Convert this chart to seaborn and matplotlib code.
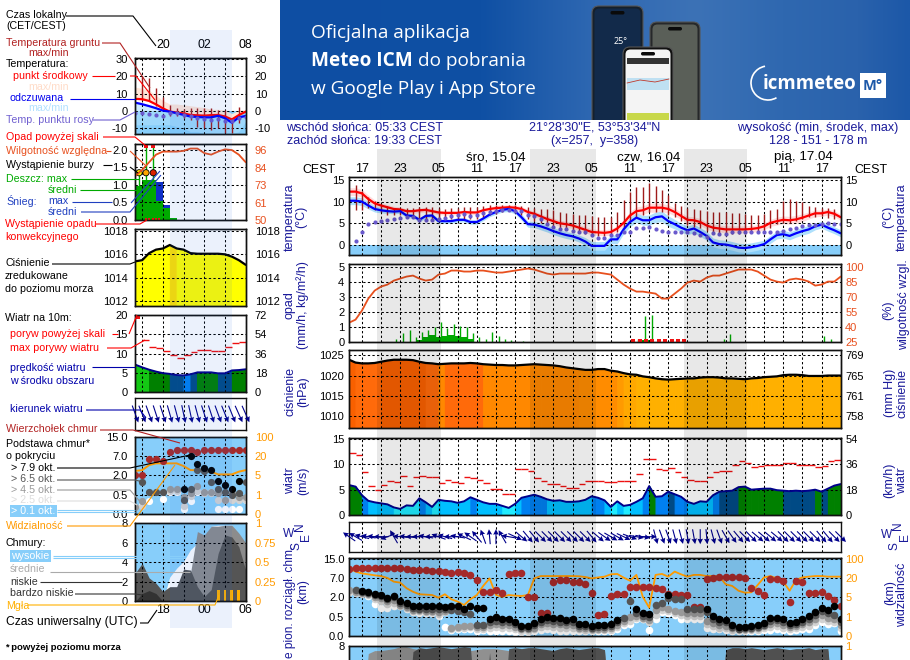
import numpy as np
import seaborn as sns
import matplotlib
matplotlib.use("Agg")
import matplotlib.pyplot as plt
from matplotlib.patches import FancyBboxPatch, Rectangle, Arc
from matplotlib.colors import LinearSegmentedColormap

sns.set_theme(style="white")
plt.rcParams["font.family"] = ["Liberation Sans", "DejaVu Sans"]
n = np.nan

# ---------------------------------------------------------------- main meteogram data (hourly, 15..92)
temp_mid = [12.3,12.3,11.9,10.6,9.6,9.1,8.7,8.3,8.2,7.8,7.8,8.0,8.1,7.8,7.5,7.4,7.4,7.4,7.6,7.5,7.5,8.0,8.3,8.5,8.6,8.7,8.6,8.3,7.6,7.2,6.6,6.0,5.5,5.0,4.8,4.5,4.0,3.5,3.0,
            2.9,2.8,3.0,3.8,5.1,6.8,7.8,8.0,8.6,8.6,8.6,8.3,7.6,6.7,5.8,5.7,5.3,4.5,4.0,3.8,3.6,3.6,3.6,3.6,3.7,3.9,4.3,5.1,5.5,5.8,5.7,5.9,6.3,6.8,7.3,7.3,7.6,7.2,6.4]
temp_feel = [10.2,10.2,10,9.1,8.3,8,7.8,7.7,7.8,6.8,6.7,5.8,6.7,6.8,5.5,5.5,5.5,5.8,5.8,5.3,5.3,6.1,7,7.6,8.1,8.3,7.8,6.4,4.8,4.7,4.3,3.8,3.2,2.7,2.3,2,1.5,.8,-.2,
             -.2,-.2,1.3,1.3,3.6,5.3,6.3,5.7,5.7,6.4,6.6,5.5,4.8,4,3.4,3.8,3,2.1,.6,.2,.1,-.2,-.6,-.7,-.5,-.2,.2,1.3,2.3,2.5,2.1,2.7,3.2,3.6,4.3,4.7,4,3.4,2.7]
temp_spread = [.9,.9,.9,.9,.8,.7,.6,.6,.6,.5,.5,.5,.5,.5,.5,.5,.5,.5,.5,.5,.5,.5,.5,.6,.6,.6,.6,.6,.6,.6,.6,.7,.7,.7,.7,.7,.7,.7,.7,
               .7,.7,.7,.7,.8,.9,1,1,1,1.1,1,.9,.9,.8,.8,.8,.8,.8,.8,.8,.8,.8,.8,.8,.8,.8,.8,.8,.9,.9,.9,.9,.9,.8,.8,.7,.7,.7,.7]
feel_spread = [.9,.9,.9,.8,.7,.6,.5,.5,.5,.5,.5,.5,.5,.5,.5,.5,.5,.5,.5,.5,.5,.5,.5,.5,.5,.6,.6,.7,.7,.7,.8,.8,.8,.8,.8,.8,.8,.9,1,
               1,1,1,1,1,1.1,1.1,1.1,1.2,1.2,1.2,1.2,1.1,1,1,1,1,1,1,1,1,1,1,1,1,1,.9,.9,.9,.9,.9,.9,.9,.9,.8,.8,.8,.8,.8]
dew_hours = list(range(16, 93))
dew_point = [1,3,4.8,5.4,5.6,5.8,6,6.2,6.4,6.4,5.7,5.7,5.7,6,6.3,6.6,6.8,7.2,6.7,7,7.4,7.6,7.8,8,8,7.8,7.8,7,6.7,5.9,4.9,4.2,3.8,3.8,3.3,3,2.9,2.3,
             1.7,1.7,2.3,2.3,3,3,3.9,3.9,4.2,3.6,3.3,2.9,3,3,3,2.8,2.3,1.9,2.7,2.5,2.5,2.9,3,3.1,3,2.9,2.9,3,3,3.3,3.8,4,4.3,4.5,4.7,4.8,5.1,4.8,4.8]
ground_hours = list(range(16, 92))
ground_max = [13.9,12.5,11,10.2,9.5,8.9,8.6,8.3,8.5,8.6,8.7,8.8,8.8,8.5,8.4,8.5,8.5,8.7,8.8,8.8,9.1,9.2,9.3,9.3,9.3,9.2,9.1,8.8,8.6,8.4,8.2,8,7.7,7.4,7.2,7,6.8,6.6,
              6.4,6.4,6.4,7.6,10.4,12.1,13.3,13.4,14.4,13.6,12.7,11.6,9.7,8.9,8.6,8.3,8.1,7.8,7.7,7.6,7.6,7.4,7.3,7.2,7,7,7.2,8.1,8.3,10.2,10.6,10.2,9.8,8.9,8.7,8.6,8.6,8.3]
ground_min = [8,8,8.5,8,7.5,7,6.8,6.8,6.5,6.5,6,6,6,6,6,6,6,6,6,6,6.5,6.8,7.2,7.6,8,7.5,7,6,5.5,5,4.5,4,3.5,3.5,3,3,2.5,2.2,
              2,2,2.2,3,4,5.5,6.5,7,7.5,7.5,7.5,7,6.5,5.5,4.5,4.2,4,3.2,2.8,2.5,2.5,2.5,2.5,2.5,2.7,3,3.5,4,4.8,5,5,5.5,6,6.5,6.5,6.6,6.2,6]
humidity = [44,47,56,68,76,80,82,86,88,90,91,88,86,87,92,93,96,96,95,95,96,96,95,94,94,95,96,97,98,97,95,93,92,93,93,93,93,93,94,
            94,93,92,87,82,78,75,75,74,73,68,68,73,78,84,86,85,89,91,91,93,95,97,97,97,95,91,87,85,84,87,88,87,85,81,82,85,85,90]
rain_max_hours = [22.4,23.4,24.5,25.4,26.4,27.4,28.4,29.4,30.3,31.4,32.4,33.4,34.4,35.4,36.4,37.4,38.4,39.4,40.4,42.2,60.3,61.4,62.5,73.7,74.6,89.4,90.5]
rain_max = [.15,.55,.8,.3,.65,.75,1.0,1.3,.9,1.15,1.05,1,.55,.3,.15,.65,.35,.15,.1,.05,.2,1.73,1.78,.2,.5,.38,.15]
rain_mean_hours = [25.9,26.9,27.9,28.9,29.9,30.9,31.9,32.9,33.9,60.9,61.9]
rain_mean = [.1,.3,.45,.33,.38,.42,.38,.3,.15,.12,.12]
convective_hours = [59.5,60.5,61.5,62.5,63.5,64.5,65.5,66.5,67.5]
pressure = [1023.9,1023.2,1023,1023,1023.1,1023.4,1023.7,1023.9,1023.9,1023.9,1023.8,1023.4,1023.1,1023,1022.8,1022.9,1023,1023,1023,1023.1,1023,1022.8,1022.7,1022.6,1022.6,1022.5,1022.5,1022.6,1022.7,1022.8,1022.7,1022.6,1022.5,1022.3,1022,1021.8,1021.6,1021.4,1021.4,
            1021.6,1021.6,1021.2,1021,1020.6,1020.3,1020.2,1019.8,1019.6,1019.3,1019.1,1019,1019.1,1019.2,1019.3,1019.3,1019.5,1019.6,1019.6,1019.5,1019.3,1019.3,1019.2,1019.1,1019.3,1019.4,1019.6,1019.7,1019.8,1020.1,1020.2,1020.2,1020.1,1019.9,1019.9,1019.9,1020,1020,1020]
wind = [5.9,5.6,3.9,2.8,2.5,2.3,2.1,1.5,1.2,1.9,1.8,3.3,2.5,1.6,3,2.8,2.7,2.4,2.7,3.5,3,2.5,2.2,2.2,1.8,1.4,2.2,3.4,3.7,4,3.6,3.1,2.8,2.9,2.6,2.6,2.7,3,3.7,
        3.4,2.9,1.6,2.7,1.8,2,2.6,3.3,5.7,3.6,3.7,4.6,4.1,3.6,2.6,2.2,2.7,2.6,3.9,4.6,4.7,4.8,5.5,5.6,5,5.1,5.2,5.2,4.9,4.8,4.7,4.8,4.7,4.8,5,4.6,5.2,5.8,6.1]
gust_hours = list(range(15, 92))
gust = [12.2,11.8,8.4,5.7,5,6,6.8,6.6,7.6,5.7,7.5,7.6,7.5,7.5,6.4,7,6.5,6.3,7.5,7.3,7,6.4,5.2,5.2,4.2,4.2,9,9,8.6,7.3,6.7,6.2,6.2,5.8,5.4,5.4,6.2,6.8,6.8,
        6.8,6.6,6.6,6.8,6.8,6.8,8,11,11,9.1,8.9,9.2,8.4,7.4,7,6.8,6.8,7.4,8.4,8.7,8.6,9.9,10.7,10.3,9.5,9.7,9.9,9.8,9.9,10.3,10.3,9.9,9.9,9.9,9.5,9.7,10.7,10.9]
wind_dir = [145,150,165,170,175,180,200,120,175,175,180,180,170,180,160,165,180,170,155,145,130,110,95,90,120,170,-25,-40,-50,-50,-45,-45,-45,-45,-45,-45,-45,-45,-50,
            -40,-35,-30,-30,-25,-20,-10,-10,0,-75,-70,-70,-75,-75,-80,-80,-90,-85,-75,-70,-60,-55,-50,-45,-45,-40,-40,-40,-40,-45,-45,-45,-45,-45,-45,-50,-50,-45,-45]
cloud_top = [3.45,3.5,3.5,3.5,3.5,3.5,3.5,3.5,3.5,3.48,3.43,3.43,3.43,3.36,3.36,3.31,3.24,3.33,3.26,3.16,2.9,2.29,2.29,2.38,2.24,3.21,3.28,3.28,2.03,2.03,1.17,1.17,2.81,2.9,2.9,2.81,2.78,2.67,2.21,
             1.09,1.12,2.07,2.17,2.19,2.52,2.55,2.55,2.52,2.5,2.41,2.17,2.17,2.14,2.1,1.52,1.52,2.93,2.98,3.05,3.05,3.05,3.05,3,2.48,2.33,2.1,2.93,2.93,2.86,1.76,2.86,2.81,2.21,2.24,2.29,2.09,1.86,1.57]
base_79 = [n,n,2.33,2.29,2.17,2.12,1.98,2.07,1.79,1.69,1.53,1.53,1.53,1.53,1.53,1.52,1.53,1.53,1.38,1.55,1.47,1.47,.9,1,.86,.88,.74,.52,.52,.66,.9,1,.91,.91,.83,.86,.64,.6,.5,
           .57,.57,.62,.83,n,n,1.38,1.17,1.12,n,n,2.12,n,n,n,n,n,1.4,1.05,.88,.83,.57,.45,.48,.52,.57,.69,.95,.95,.86,.66,.74,.88,1.03,1.22,1.47,1.34,1.55,.86]
base_65 = [n,2.38,2.3,2.25,2.1,2.05,1.9,2,1.7,1.6,1.45,1.4,1.4,1.4,1.4,1.4,1.35,1.3,1.22,1.12,.55,.55,.7,.8,.7,.7,.6,.42,.42,.55,.75,.85,.78,.75,.7,.72,.52,.5,.42,
           .48,.48,.5,.7,.95,1.8,1.2,1.05,1,1.6,1.7,1.95,1.9,1.9,1.4,1.4,1.4,1.25,.9,.75,.7,.48,.38,.4,.43,.48,.58,.8,.82,.72,.55,.62,.75,.88,1.08,1.3,1.2,1.09,.7]
base_45 = [2.38,2.3,2.2,2.15,2,1.95,1.8,1.85,1.6,1.5,1.35,1.35,1.3,1.3,1.25,1.3,.42,.45,.5,.5,.45,.45,.55,.6,.55,.55,.45,.35,.35,.42,.6,.65,.6,.6,.55,.55,.42,.42,.36,
           .38,.38,.4,.55,.8,1,1.05,.95,.85,1.35,1.5,1.4,1.3,1.25,1.2,1.2,1.2,.8,.65,.55,.5,.4,.34,.35,.37,.4,.5,.62,.65,.58,.45,.5,.6,.7,.9,1.1,.95,.9,.55]
base_25 = [2.3,2.25,2.15,2.1,1.9,1.8,1.65,1.7,1.55,1.45,1.3,1.28,1.24,1.22,1.15,1.25,.36,.4,.42,.44,.36,.38,.42,.45,.42,.42,.35,.28,.28,.34,.45,.5,.45,.42,.42,.42,.34,.33,.3,
           .3,.3,.32,.45,.68,.8,.95,.9,.7,1.1,1.35,1.3,1.2,1.1,1.05,1.05,1.05,.6,.5,.42,.4,.33,.31,.31,.32,.33,.4,.48,.5,.42,.36,.4,.45,.52,.72,.9,.78,.75,.42]
base_01 = [2.26,2.26,2.21,2.09,1.64,1.47,1.47,1.53,1.53,1.38,1.24,1.21,1.17,1.17,1.05,.48,.31,.34,.36,.38,.28,.31,.28,.26,.28,.28,.22,.22,.22,.26,.31,.34,.31,.28,.28,.28,.26,.26,.26,
           .24,.24,.24,.36,.57,.6,.86,.86,.31,.86,1.26,1.17,1.09,.86,.86,.86,.86,.4,.34,.34,.31,.28,.28,.28,.28,.26,.31,.31,.34,.31,.28,.31,.34,.38,.57,.74,.62,.65,.28]
visibility = [3.5,3.33,3.24,3.19,3.14,3.1,3,2.81,2.76,2.47,2.29,2.16,2.14,2.12,1.98,2.16,1.9,1.78,1.6,1.9,2.12,2.59,2.98,2.12,2.03,2.12,2.09,2.07,2.12,2.98,3.1,3.1,3.1,3.1,3.1,3.1,3.09,3.05,2.98,
              3.03,3.07,3.19,3.21,3.02,2.86,3.16,2.03,1.47,3.16,3.21,3.07,3.33,3.19,3.07,3.16,3.16,3.1,3.1,3.07,2.67,2.59,2.34,2.24,2.26,2.64,3.03,3.1,2.98,2.81,2.34,2.9,3.03,3.07,3.1,3.1,3.07,3.07,3.07]
cover_mid = [0,0,0,7.2,7.5,7.5,7.6,7.7,7.9,7.9,7.7,7.6,7.5,7.5,7.5,7.5,7.5,7.5,7.5,7.5,7.6,7.7,7.7,7.7,7.6,7.5,7.5,7.5,7.5,7.5,7.5,7.5,7.5,7.5,7.5,7.5,7.5,7.5,7.5,
             7.5,7.5,0,0,0,0,0,0,0,0,0,0,0,0,0,0,0,0,0,0,7.5,7.5,7.5,7.5,7.5,7.5,7.5,7.5,7.5,7.5,7.5,7.5,7.5,7.5,7.5,7.5,7.5,0,0]
cover_low = [0,0,0,0,0,0,0,0,0,0,7.4,7.8,7.7,7.8,7.9,7.8,7.7,7.8,7.9,7.8,0,0,7.3,0,0,7.7,7.8,7.7,7.8,7.8,7.7,7.6,7.5,7.7,7.8,7.7,7.6,7.7,7.8,
             7.8,7.6,0,0,0,0,0,0,0,0,0,0,0,0,0,0,0,0,0,0,7.6,7.8,7.8,7.7,7.8,7.7,7.6,7.7,7.8,7.7,7.6,7.7,7.7,7.8,7.6,7.7,7.7,0,0]

main_ticks = [17,20,23,26,29,32,35,38,41,44,47,50,53,56,59,62,65,68,71,74,77,80,83,86,89,92]
main_labels = ["17","","23","","05","","11","","17","","23","","05","","11","","17","","23","","05","","11","","17",""]
night_starts = [19.3,43.4,67.4]
night_ends = [29.4,53.6,77.4]

# ---------------------------------------------------------------- left key panel data (hourly, 16..32)
key_temp = [7.0,6.8,5.8,3.8,1.5,-0.4,-0.9,-1.4,-2.3,-2.5,-2.7,-2.4,-2.3,-3.2,-4.9,-2.4,-0.4]
key_temp_hi = [13.8,13,12,9,6,4,4,3.5,3,2.5,2,1,1,.5,-1.5,.5,.5]
key_feel = [4.8,3.9,2.8,1.6,0.2,-0.4,-1.3,-2.3,-3.2,-3.5,-3.7,-3.7,-2.8,-4.2,-6.8,-3.7,-2.9]
key_feel_lo = [-8,-8,-8,-8,-8,-8,-9,-10,-12,-12,-13,-13,-13,-13,-13,-12,-6]
key_dew = [-1.2,-1.4,-1.7,-2.3,-2.7,-1.4,-1.4,-2.3,-3,-3.9,-4.5,-5,-4.9,-5.6,-5.6,-4,-3.5]
key_ground_hours = [17,18,19,20,21,22,23,24,25,26,27,28,29,30,31]
key_ground_max = [20.4,19,13,8,3.5,1.5,1,1.5,1.5,1.5,1.5,.5,.5,-4,2.5]
key_ground_min = [6.5,5.5,3,.8,-3,-3,-4,-5.5,-9,-10,-11,-10,-13,-13,-7]
key_humidity = [79,83,88,93,95,95,95,95.5,97,97,94,93,95,96.5,96,93,88]
key_rain = [.96,1.15,1.15,.53,.34,.07]
key_snow = [0,0,0,.55,.09,0]
key_rain_hours = [16,17,18,19,20,21]
key_storm_hours = [16.55,17.55,18.6]
key_storm_colors = ["#ffee00","#ffa500","#dd2200"]
key_spike_low = [.96,1.15,1.15]
key_spike_high = [1.35,2.1,2.1]
key_pressure = [1015.4,1015.5,1016.1,1016.4,1016.5,1016.8,1016.5,1016.4,1016.1,1016.05,1016.05,1016.05,1016.05,1016,1015.8,1015.5,1015.1]
key_wind = [7.1,6.4,5.8,5.3,4.9,4.7,4.4,4.3,4.6,5.1,5.1,5.1,4.85,4.85,5.6,5.7,5.9]
key_gust_hours = [17,18,19,20,21,22,23,24,25,26,27,28,29,30,31]
key_gust = [13.5,11.8,11.5,10.6,9.7,8.9,9.7,10.4,10.9,10.9,10.6,10.6,11.6,12.8,13]
key_dir = [-70,-68,-70,-72,-72,-74,-75,-78,-78,-75,-72,-72,-70,-68,-68,-66,-66]
key_top = [2,2,2.85,2.85,2.75,3.2,3.3,3.3,3.3,3.2,3.3,3.3,3.3,3.3,3.3,3.3,3.3]
key_b79 = [n,n,n,n,n,n,n,1.28,3,2.57,2.4,2.28,1.7,1.5,1.28,1.7,n]
key_b65 = [n,1.67,1.12,1.12,1.12,n,n,.72,1.28,2.3,2.2,1.67,1.28,1.12,1,1.07,1.67]
key_b45 = [.38,.69,n,n,n,1.28,1.28,.9,1.1,1.45,1.15,1.12,1.07,.72,1.07,.9,.9]
key_b25 = [.35,.4,n,n,n,1.2,1.2,.4,.95,1.2,1.1,1.1,.72,.72,.72,.72,.72]
key_b01 = [n,.46,.69,n,.76,1.12,1.12,.24,.69,1.15,1.12,1.15,.24,.24,.24,.24,.72]
key_vis = [2.23,2.27,2.53,2.62,2.62,2.62,2.62,2.48,2.27,2.27,2.23,2.19,2.05,2.05,2.05,2.19,2.27]
key_high = [0,0,0,0,0,2.5,3.4,4.1,5.3,5.95,6.5,7.7,7.8,7.8,7.8,6.6,5.8]
key_mid = [0,0,0,0,0,0,0,3.2,2.9,7.15,6.8,7.7,7.7,7.8,7.8,7,6]
key_low = [2.9,3.9,2.4,1.85,1,1.5,1.5,3.3,3.2,1.5,.5,1.2,4.9,6.8,6.6,5.6,3.2]
key_vlow = [0,.8,1.1,.8,0,0,0,0,0,0,0,0,0,0,0,0,0]
key_fog_hours = [28,29,30,31]
key_fog = [1.15,1.15,1.15,1.15]
key_ticks = [17,20,23,26,29,32]
key_top_labels = ["","20","","02","","08"]
key_bottom_labels = ["","18","","00","","06"]

# ---------------------------------------------------------------- colour classes
wind_bounds = [2,3.2,4.4,4.9,6.2]
wind_cols = ["#20ecff","#00bfff","#0080f0","#004a85","#008000","#14c814"]
press_bounds = [1016.7,1018,1020.25,1020.7,1021.1,1021.7,1022.85,1023.35]
press_cols = ["#ffff00","#ffe000","#ffb000","#ffa800","#ff9a00","#ff8c00","#ff8800","#ff6a0a","#f96000"]

W, H = 910, 660
fig = plt.figure(figsize=(W/100, H/100), dpi=100, facecolor="white")
FS = 8.0       # axis numbers
NOTE = 7.7     # key notes
HEAD = 9.0     # page headers
TIME = 8.9     # time-of-day labels
NAVY = "#1a1a9a"
BLUEBG = "#87cefa"
RHC = "#e8501e"
VISC = "#ff9a00"
plt.rcParams["font.size"] = FS


def axpx(x0, y0, x1, y1):
    ax = fig.add_axes([x0/W, 1-y1/H, (x1-x0)/W, (y1-y0)/H])
    ax.patch.set_alpha(0)
    return ax


def panel(box, xlim, ylim, xt, yt, ylab=None, pad=3, ygrid=True):
    ax = axpx(*box)
    ax.set_xlim(*xlim)
    ax.set_ylim(*ylim)
    ax.set_xticks(xt)
    ax.set_xticklabels([""]*len(xt))
    ax.set_yticks(yt)
    ax.set_yticklabels(ylab if ylab else [str(v) for v in yt], fontsize=FS)
    ax.tick_params(length=0, pad=pad, colors="black")
    ax.set_axisbelow("line")
    ax.grid(True, axis="x", color="black", ls=(0, (2.2, 2.2)), lw=.75)
    if ygrid:
        ax.grid(True, axis="y", color="black", ls=(0, (2.2, 2.2)), lw=.75)
    for s in ax.spines.values():
        s.set_color("#111111")
        s.set_linewidth(1.0)
    return ax


def right(ax, ticks, labels, color="black", lim=None, pad=3):
    tw = ax.twinx()
    tw.patch.set_alpha(0)
    tw.set_ylim(*(lim if lim else ax.get_ylim()))
    tw.set_yticks(ticks)
    tw.set_yticklabels(labels, fontsize=FS, color=color)
    tw.tick_params(length=0, pad=pad)
    tw.grid(False)
    for s in tw.spines.values():
        s.set_color("#111111")
        s.set_linewidth(1.0)
    return tw


def line(ax, x, y, color, lw):
    sns.lineplot(x=list(x), y=list(y), ax=ax, color=color, linewidth=lw, errorbar=None, legend=False)
    ax.set_xlabel("")
    ax.set_ylabel("")


def dots(ax, x, y, color, s):
    sns.scatterplot(x=list(x), y=list(y), ax=ax, color=color, s=s, linewidth=0, legend=False, zorder=3)
    ax.set_xlabel("")
    ax.set_ylabel("")


def columns(ax, x, y, base, bounds, cols):
    for i in range(len(x)-1):
        c = cols[int(np.digitize(y[i], bounds))]
        ax.fill_between([x[i], x[i+1]], [y[i], y[i+1]], base, facecolor=c, edgecolor=c, lw=.8, zorder=1)


def quiver(ax, x, d, length):
    r = np.radians(d)
    ax.quiver(x, np.zeros(len(x)), np.cos(r), np.sin(r), color="#00008b",
              angles="uv", scale_units="dots", scale=1/length, units="dots", width=1.1, headwidth=5,
              headlength=5, headaxislength=4.5, pivot="mid", clip_on=False, zorder=3)


def base_dots(ax, x, lv, s):
    for vals, c in zip(lv, ["white", "#d2d2d2", "#999999", "#555555", "black"]):
        dots(ax, x, vals, c, s)


# ================================================================= banner
banner = axpx(280, 0, 910, 120)
banner_cmap = LinearSegmentedColormap.from_list("banner", [(0, "#0e4ea3"), (.32, "#0f50a4"), (.5, "#2f68b2"),
                                                          (.66, "#3c72b6"), (.8, "#2f68b0"), (.92, "#2a62ac"), (1, "#1c58a8")])
banner.imshow(np.linspace(0, 1, 256)[None, :], cmap=banner_cmap, aspect="auto", extent=(280, 910, 120, 0))
banner.set_xlim(280, 910)
banner.set_ylim(120, 0)
banner.axis("off")
BF = ["Open Sans", "DejaVu Sans"]
banner.text(311, 33, "Oficjalna aplikacja", color="white", fontsize=13.7, va="center", family=BF)
banner.text(311, 61, "Meteo ICM", color="white", fontsize=13.7, va="center", weight="bold", family=BF)
banner.text(418, 61, "do pobrania", color="white", fontsize=13.7, va="center", family=BF)
banner.text(311, 89, "w Google Play i App Store", color="white", fontsize=13.7, va="center", family=BF)
for (x0, y0, x1, col, scr) in [(592, 6, 643, "#15202c", "#122a4a"), (650, 22, 700, "#26282a", "#5a5f58"), (623, 47, 673, "#111111", "#f4f4f4")]:
    banner.add_patch(FancyBboxPatch((x0, y0), x1-x0, 140-y0, boxstyle="round,pad=0,rounding_size=7", fc=col, ec="#555555", lw=.8, clip_on=True))
    banner.add_patch(FancyBboxPatch((x0+2.5, y0+2.5), x1-x0-5, 140-y0, boxstyle="round,pad=0,rounding_size=5", fc=scr, ec="none", clip_on=True))
    banner.add_patch(FancyBboxPatch(((x0+x1)/2-7, y0+5), 14, 3.5, boxstyle="round,pad=0,rounding_size=1.7", fc="#0a0a0a", ec="none"))
banner.add_patch(Rectangle((627, 58), 42, 6, fc="#333333", ec="none"))
banner.text(621, 41, "25°", color="white", fontsize=6.5, ha="center", va="center", family=BF)
banner.add_patch(Rectangle((627, 78), 42, 12, fc="#bfe0f2", ec="none"))
banner.plot([627, 640, 655, 669], [83, 80, 82, 79], color="#c0392b", lw=.6)
banner.add_patch(Rectangle((627, 113), 42, 7, fc="#c8d84a", ec="none"))
banner.text(763, 84, "icmmeteo", color="white", fontsize=13.4, weight="bold", va="center", family=BF)
banner.add_patch(Arc((768, 83), 34, 34, theta1=60, theta2=260, color="white", lw=1.2))
banner.add_patch(Rectangle((860, 73), 26, 25, fc="white", ec="none"))
banner.text(873, 85.5, "M°", color="#1c58a8", fontsize=10.5, weight="bold", ha="center", va="center", family=BF)

# ================================================================= main panels
hours = np.arange(15, 93)
XL = (14.9, 92.05)
X0, X1 = 348.5, 841

# temperature
ax = panel((X0, 177.3, X1, 255), XL, (-2.3, 15.6), main_ticks, [15, 10, 5, 0])
ax.axhspan(-2.3, 0, color=BLUEBG, lw=0, zorder=.8)
tm, fl = np.array(temp_mid), np.array(temp_feel)
ax.fill_between(hours, tm-temp_spread, tm+np.array(temp_spread), color="#ffdcdc", lw=0, zorder=.9)
ax.fill_between(hours, fl-feel_spread, fl+np.array(feel_spread), color="#aee0fc", lw=0, zorder=.9)
ax.vlines(ground_hours, ground_min, ground_max, color="#a01c1c", lw=1, zorder=2)
dots(ax, dew_hours, dew_point, "#6a5acd", 9)
line(ax, hours, temp_mid, "#ff0000", 1.6)
line(ax, hours, temp_feel, "#0000ff", 1.6)
ax.set_xticklabels(main_labels, fontsize=TIME)
ax.tick_params(axis="x", top=False, labeltop=True, labelbottom=False, pad=1.5)
right(ax, [15, 10, 5, 0], ["15", "10", "5", "0"])

# precipitation / humidity
ax = panel((X0, 264, X1, 341.7), XL, (0, 5.17), main_ticks, [5, 4, 3, 2, 1, 0])
ax.vlines(rain_max_hours, 0, rain_max, color="#00aa00", lw=1, zorder=2)
ax.bar(rain_mean_hours, rain_mean, width=1, color="#00aa00", lw=0, zorder=1)
ax.scatter(convective_hours, [.03]*len(convective_hours), marker="s", s=5, color="#ee1111", lw=0, zorder=3, clip_on=False)
tw = right(ax, [100, 85, 70, 55, 40, 25], ["100", "85", "70", "55", "40", "25"], RHC, lim=(25, 102.55))
line(tw, hours, humidity, RHC, 1.3)

# pressure
ax = panel((X0, 350, X1, 428.3), XL, (1007, 1026.3), main_ticks, [1025, 1020, 1015, 1010])
columns(ax, hours, pressure, 1007, press_bounds, press_cols)
line(ax, hours, pressure, "black", 1.6)
right(ax, [1025, 1020, 1015, 1010], ["769", "765", "761", "758"])

# wind
ax = panel((X0, 437.7, X1, 515), XL, (0, 15.25), main_ticks, [15, 10, 5, 0])
columns(ax, hours, wind, 0, wind_bounds, wind_cols)
line(ax, hours, wind, "#00008b", 1.4)
ax.hlines(gust, gust_hours, np.array(gust_hours)+1, color="#ee1111", lw=1, zorder=2)
right(ax, [15, 10, 5, 0], ["54", "36", "18", "0"])

# wind direction
ax = panel((X0, 521.7, X1, 551.7), XL, (-1, 1), main_ticks, [], ygrid=False)
quiver(ax, hours, wind_dir, 15)

# cloud base / visibility
LV = [0, 1, 2, 3, 4]
ax = panel((X0, 557.7, X1, 636), XL, (0, 4.05), main_ticks, LV, ["0.0", "0.5", "2.0", "7.0", "15.0"])
ax.set_facecolor(BLUEBG); ax.patch.set_alpha(1)
dots(ax, hours, cloud_top, "#a52a2a", 30)
base_dots(ax, hours, [base_01, base_25, base_45, base_65, base_79], 30)
line(ax, hours, visibility, VISC, 1.3)
right(ax, LV, ["0", "1", "5", "20", "100"], VISC)

# cloud cover (runs past the lower edge of the page, only its top tick is on it)
ax = panel((X0, 645.7, X1, 724), XL, (0, 8), main_ticks, [8])
ax.set_facecolor(BLUEBG); ax.patch.set_alpha(1)
ax.fill_between(hours, cover_mid, color="#909090", lw=0, zorder=1)
ax.fill_between(hours, cover_low, color="#505050", lw=0, zorder=1)
right(ax, [8], ["1"], VISC)

# ================================================================= key panels
kh = np.arange(16, 33)
KL = (16, 32)
KX0, KX1 = 135.3, 245.7
KP = 5.5

ax = panel((KX0, 57.7, KX1, 134.3), KL, (-13.5, 30.8), key_ticks, [30, 20, 10, 0, -10], pad=KP)
ax.axhspan(-13.5, 0, color=BLUEBG, lw=0, zorder=.8)
ax.fill_between(kh, key_feel_lo, key_feel, color="#aee0fc", lw=0, zorder=.85, alpha=.6)
ax.fill_between(kh, key_temp, key_temp_hi, color="#ffe6d8", lw=0, zorder=.9)
ax.vlines(key_ground_hours, key_ground_min, key_ground_max, color="#a01c1c", lw=1, zorder=2)
dots(ax, kh, key_dew, "#6a5acd", 9)
line(ax, kh, key_temp, "#ff0000", 1.6)
line(ax, kh, key_feel, "#0000ff", 1.6)
ax.set_xticklabels(key_top_labels, fontsize=TIME)
ax.tick_params(axis="x", labeltop=True, labelbottom=False, pad=5)
right(ax, [30, 20, 10, 0, -10], ["30", "20", "10", "0", "-10"], pad=KP+1)

ax = panel((KX0, 143.7, KX1, 220), KL, (0, 2.18), key_ticks, [2, 1.5, 1, .5, 0], ["2.0", "1.5", "1.0", "0.5", "0.0"], pad=KP)
ax.bar(key_rain_hours, key_rain, width=1, align="edge", color="#00aa00", lw=0, zorder=1)
ax.bar(key_rain_hours, key_snow, bottom=key_rain, width=1, align="edge", color="#1030c8", lw=0, zorder=1)
ax.vlines(key_storm_hours, key_spike_low, key_spike_high, color="#00aa00", lw=1, zorder=2)
ax.scatter(key_storm_hours, [1.35]*3, c=key_storm_colors, s=20, edgecolors="black", linewidths=.6, zorder=4)
ax.scatter(key_storm_hours[1:], [2.12]*2, marker="s", s=10, color="#ee1111", lw=0, zorder=4)
ax.scatter([17.5, 18, 18.5, 19, 19.5], [.02]*5, marker="s", s=4, color="#ee1111", lw=0, zorder=4)
tw = right(ax, [96, 84, 73, 61, 50], ["96", "84", "73", "61", "50"], RHC, lim=(50, 100.2), pad=KP+1)
line(tw, kh, key_humidity, RHC, 1.3)

ax = panel((KX0, 229.3, KX1, 306), KL, (1011.58, 1018.14), key_ticks, [1018, 1016, 1014, 1012], pad=KP)
columns(ax, kh, key_pressure, 1011.58, press_bounds, press_cols)
line(ax, kh, key_pressure, "black", 1.6)
right(ax, [1018, 1016, 1014, 1012], ["1018", "1016", "1014", "1012"], pad=KP+1)

ax = panel((KX0, 315, KX1, 392), KL, (0, 20), key_ticks, [20, 15, 10, 5, 0], pad=KP)
columns(ax, kh, key_wind, 0, wind_bounds, wind_cols)
line(ax, kh, key_wind, "#00008b", 1.4)
ax.hlines(key_gust, key_gust_hours, np.array(key_gust_hours)+1, color="#ee1111", lw=1, zorder=2)
ax.scatter([16.4], [19.6], marker="s", s=9, color="#ee1111", lw=0, zorder=4, clip_on=False)
right(ax, [20, 15, 10, 5, 0], ["72", "54", "36", "18", "0"], pad=KP+1)

ax = panel((KX0, 398, KX1, 430), KL, (-1, 1), key_ticks, [], ygrid=False)
quiver(ax, kh, key_dir, 18)

ax = panel((KX0, 436.7, KX1, 514), KL, (0, 4), key_ticks, LV, ["0.0", "0.5", "2.0", "7.0", "15.0"], pad=KP)
ax.set_facecolor(BLUEBG); ax.patch.set_alpha(1)
dots(ax, kh, key_top, "#a52a2a", 27)
base_dots(ax, kh, [key_b01, key_b25, key_b45, key_b65, key_b79], 27)
line(ax, kh, key_vis, VISC, 1.4)
right(ax, LV, ["0", "1", "5", "20", "100"], VISC, pad=KP+1)

ax = panel((KX0, 523.3, KX1, 601.3), KL, (0, 8), key_ticks, [8, 6, 4, 2, 0], pad=KP)
ax.set_facecolor(BLUEBG); ax.patch.set_alpha(1)
ax.fill_between(kh, key_high, color="white", lw=0, zorder=1)
ax.fill_between(kh, key_mid, color="#8c8c8c", lw=0, zorder=1)
ax.fill_between(kh, key_low, color="#555555", lw=0, zorder=1)
ax.fill_between(kh, key_vlow, color="#333333", lw=0, zorder=1)
ax.bar(key_fog_hours, key_fog, width=.42, color="#ffb000", lw=0, zorder=2)
ax.set_xticklabels(key_bottom_labels, fontsize=TIME)
ax.tick_params(axis="x", pad=2)
right(ax, [8, 6, 4, 2, 0], ["1", "0.75", "0.5", "0.25", "0"], VISC, pad=KP+1)

# ================================================================= night / twilight bands
shade = axpx(X0, 149, X1, 660)
shade.set_xlim(*XL)
shade.set_ylim(0, 1)
shade.axis("off")
shade.set_zorder(40)
for a, b in zip(night_starts, night_ends):
    shade.axvspan(a, b, color="black", alpha=.09, lw=0)
kshade = axpx(KX0, 30, KX1, 628)
kshade.set_xlim(*KL)
kshade.set_ylim(0, 1)
kshade.axis("off")
kshade.set_zorder(40)
kshade.axvspan(21, 30, color="#1a66e6", alpha=.085, lw=0)

# ================================================================= notes and leader lines
lab = axpx(0, 0, W, H)
lab.set_xlim(0, W)
lab.set_ylim(H, 0)
lab.axis("off")
lab.set_zorder(50)
BR, RED, BLU, SLT, GRN, DKB = "#b22222", "#ff0000", "#0000ee", "#7060d0", "#00aa00", "#0000aa"
notes = [
    ("Czas lokalny", 6, 15, "black"), ("(CET/CEST)", 6, 26, "black"),
    ("Temperatura gruntu", 6, 43, BR), ("max/min", 28, 53, BR), ("Temperatura:", 6, 64, "black"),
    ("punkt środkowy", 13, 76, RED), ("max/min", 28, 87, "#ffdcc8"), ("odczuwana", 10, 98, BLU),
    ("max/min", 28, 108, "#b0e0ff"), ("Temp. punktu rosy", 6, 120, SLT), ("Opad powyżej skali", 6, 137, RED),
    ("Wilgotność względna", 6, 151, RHC), ("Wystąpienie burzy", 6, 165, "black"), ("Deszcz: max", 6, 179, GRN),
    ("średni", 48, 190, GRN), ("Śnieg:", 6, 201, "#2040c0"), ("max", 48, 201, "#2040c0"), ("średni", 48, 212, "#2040c0"),
    ("Wystąpienie opadu", 5, 224, RED), ("konwekcyjnego", 5, 237, RED), ("Ciśnienie", 5, 263.5, "black"),
    ("zredukowane", 5, 276, "black"), ("do poziomu morza", 5, 289, "black"), ("Wiatr na 10m:", 5, 318, "black"),
    ("poryw powyżej skali", 10, 334, RED), ("max porywy wiatru", 10, 348, RED), ("prędkość wiatru", 10, 368, DKB),
    ("w środku obszaru", 10, 381, DKB), ("kierunek wiatru", 10, 409, DKB), ("Wierzchołek chmur", 6, 429, BR),
    ("Podstawa chmur*", 6, 444, "black"), ("o pokryciu", 6, 456, "black"), ("> 7.9 okt.", 11, 468, "black"),
    ("> 6.5 okt.", 11, 479, "#555555"), ("> 4.5 okt.", 11, 490, "#999999"), ("> 2.5 okt.", 11, 500, "#dddddd"),
    ("Widzialność", 6, 526, VISC), ("Chmury:", 6, 543, "black"), ("średnie", 10, 569, "#aaaaaa"),
    ("niskie", 10, 582, "#333333"), ("bardzo niskie", 10, 593, "#333333"), ("Mgła", 6, 606, "#ffb000"),
]
for t, x, y, c in notes:
    lab.text(x, y, t, color=c, fontsize=NOTE, va="center", ha="left")
lab.text(6, 622, "Czas uniwersalny (UTC)", color="black", fontsize=8.7, va="center")
lab.text(11, 511, "> 0.1 okt.", color="white", fontsize=NOTE, va="center", bbox=dict(fc=BLUEBG, ec="none", pad=1))
lab.text(11, 556, "wysokie", color="white", fontsize=NOTE, va="center", bbox=dict(fc=BLUEBG, ec="none", pad=1))
lab.text(5, 648, "* powyżej poziomu morza", color="black", fontsize=6.8, weight="bold", va="center")

leaders = [
    ([66, 133, 156], [16, 16, 46], "black"), ([102, 120, 150], [43, 43, 88], BR),
    ([92, 115], [76, 76], RED), ([130, 136, 155], [76, 76, 100], RED), ([70, 135], [99, 99], BLU),
    ([93, 120, 135], [120, 120, 112], SLT), ([103, 135, 146], [137, 137, 146], RED),
    ([106, 111], [151, 151], RHC), ([130, 145], [151, 165], RHC), ([103, 112], [165, 165], "black"),
    ([130, 138], [167, 173], "black"), ([71, 139], [179, 179], GRN), ([80, 138], [190, 190], GRN),
    ([72, 112], [202, 202], "#2040c0"), ([131, 160], [203, 171], "#2040c0"), ([81, 130, 161], [212, 212, 175], "#2040c0"),
    ([96, 140, 147], [224, 224, 220], RED), ([52, 130, 135], [264, 264, 262], "black"),
    ([112, 118], [334, 334], RED), ([129, 137], [334, 315], RED), ([107, 131, 145], [348, 348, 340], RED),
    ([92, 135], [367, 367], DKB), ([86, 140, 146], [410, 410, 418], DKB), ([100, 133, 180], [430, 430, 443], BR),
    ([57, 130, 190], [468, 468, 455], "black"), ([57, 135, 143], [480, 480, 482], "#555555"),
    ([57, 130, 143], [490, 490, 505], "#999999"), ([57, 130, 137], [501, 501, 505], "#dddddd"),
    ([57, 135], [510, 510], BLUEBG), ([57, 135], [512, 512], BLUEBG), ([67, 130, 175], [526, 526, 465], VISC),
    ([53, 185], [556, 556], BLUEBG), ([53, 185], [558, 558], BLUEBG), ([50, 190], [572, 572], "#aaaaaa"),
    ([40, 122], [582, 582], "#333333"), ([75, 135, 150], [594, 594, 596], "#333333"),
    ([28, 215, 219], [605, 605, 595], "#ffb000"), ([140, 148, 157], [623, 623, 610], "black"),
]
for xs, ys, c in leaders:
    lab.plot(xs, ys, color=c, lw=.8, solid_capstyle="butt")

# main page headers
head = [("wschód słońca: 05:33 CEST", 286, 128, "left"), ("zachód słońca: 19:33 CEST", 287, 141, "left"),
        ("21°28'30\"E, 53°53'34\"N", 595, 128, "center"), ("(x=257,  y=358)", 595, 141, "center"),
        ("wysokość (min, środek, max)", 818, 128, "center"), ("128 - 151 - 178 m", 818, 141, "center")]
for t, x, y, ha in head:
    lab.text(x, y, t, color=NAVY, fontsize=HEAD, va="center", ha=ha)
for t, x in [("śro, 15.04", 496), ("czw, 16.04", 649), ("pią, 17.04", 803)]:
    lab.text(x, 157, t, color="black", fontsize=9.6, va="center", ha="center")
lab.text(319, 170, "CEST", color="black", fontsize=TIME, va="center", ha="center")
lab.text(871, 170, "CEST", color="black", fontsize=TIME, va="center", ha="center")

rot = [("temperatura", 290, 217), ("(°C)", 301, 217), ("opad", 290, 305), ("(mm/h, kg/m²/h)", 303, 305),
       ("ciśnienie", 290, 392), ("(hPa)", 303, 392), ("wiatr", 290, 481), ("(m/s)", 303, 481),
       ("(km)", 303, 592),
       ("(°C)", 888, 217), ("temperatura", 902, 217), ("(%)", 888, 310), ("wilgotność wzgl.", 904, 305),
       ("(mm Hg)", 890, 393), ("ciśnienie", 902, 393), ("(km/h)", 889, 480), ("wiatr", 902, 481),
       ("(km)", 890, 593), ("widzialność", 902, 595)]
for t, x, y in rot:
    lab.text(x, y, t, color=NAVY, fontsize=9.0, rotation=90, va="center", ha="center")
lab.text(290, 602, "e pion. rozciągł. chm.", color=NAVY, fontsize=8.6, rotation=90, va="center", ha="center")
for t, x, y, r in [("W", 289, 534, 0), ("N", 300, 527, 90), ("S", 296, 546, 90), ("E", 306, 537, 90),
                   ("W", 887, 535, 0), ("N", 898, 526, 90), ("S", 895, 546, 90), ("E", 905, 537, 90)]:
    lab.text(x, y, t, color=NAVY, fontsize=8.6, rotation=r, va="center", ha="center")

fig.savefig("out.png", dpi=100, facecolor="white")
